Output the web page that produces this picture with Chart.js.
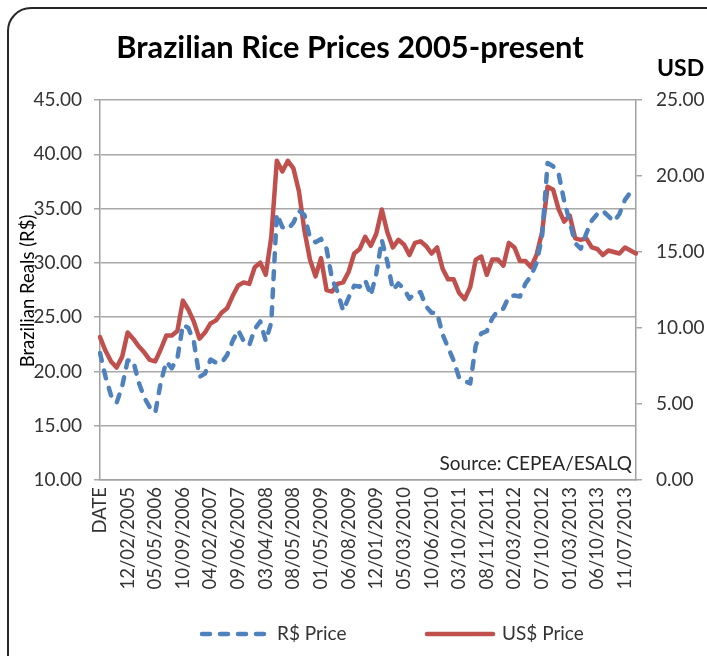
<!DOCTYPE html>
<html>
    <head>
        <title>Brazilian Rice Prices 2005-present</title>
        <style>
            body { margin: 0; background: #fff; overflow: hidden; }
            #frame { position: absolute; left: 7px; top: 7px; width: 760px; height: 720px; border: 2px solid #262626; border-radius: 24px; }
            #myChart { position: absolute; left: 0; top: 0; }
        </style>
    </head>
    <body>
        <div id="frame"></div>
        <canvas id="myChart" width="707" height="656"></canvas>
        <script src="https://cdn.jsdelivr.net/npm/chart.js"></script>
        <script>
            // tick labels shown every 5th point
            const dateTicks = ['DATE', '12/02/2005', '05/05/2006', '10/09/2006', '04/02/2007', '09/06/2007',
                '03/04/2008', '08/05/2008', '01/05/2009', '06/08/2009', '12/01/2009', '05/03/2010',
                '10/06/2010', '03/10/2011', '08/11/2011', '02/03/2012', '07/10/2012', '01/03/2013',
                '06/10/2013', '11/07/2013'];

            const rsPrice = [21.7, 19.5, 17.8, 17.1, 18.6, 21.0, 21.0, 19.0, 17.6, 16.7,
                16.2, 19.0, 20.9, 20.3, 21.2, 24.3, 24.0, 22.7, 19.5, 19.8,
                21.1, 20.8, 20.8, 21.5, 22.8, 23.8, 22.8, 22.4, 23.9, 24.6,
                22.8, 24.5, 34.5, 33.3, 33.1, 33.7, 34.8, 34.4, 32.3, 31.9,
                32.2, 31.3, 28.5, 27.3, 25.6, 26.8, 27.9, 27.8, 28.4, 27.0,
                29.0, 32.1, 30.1, 27.5, 28.1, 27.6, 26.7, 27.2, 27.3, 26.0,
                25.4, 25.4, 23.4, 22.2, 21.0, 19.4, 19.1, 18.9, 22.4, 23.5,
                23.7, 24.9, 25.6, 25.8, 26.9, 27.0, 26.9, 28.1, 28.8, 30.0,
                32.4, 39.2, 38.9, 38.2, 35.7, 33.8, 31.8, 31.3, 32.7, 33.9,
                34.5, 34.8, 34.3, 33.8, 34.5, 35.8, 36.5, 36.2];

            const usPrice = [9.4, 8.5, 7.8, 7.4, 8.1, 9.7, 9.3, 8.8, 8.4, 7.9,
                7.8, 8.6, 9.5, 9.5, 9.8, 11.8, 11.2, 10.4, 9.3, 9.7,
                10.3, 10.5, 11.0, 11.3, 12.1, 12.8, 13.0, 12.9, 14.0, 14.3,
                13.5, 16.0, 21.0, 20.3, 21.0, 20.5, 19.0, 16.4, 14.5, 13.4,
                14.6, 12.5, 12.4, 12.9, 13.0, 13.7, 14.9, 15.2, 16.0, 15.4,
                16.2, 17.8, 16.3, 15.3, 15.8, 15.5, 14.8, 15.6, 15.7, 15.4,
                14.9, 15.3, 13.9, 13.2, 13.2, 12.3, 11.9, 12.7, 14.5, 14.7,
                13.5, 14.5, 14.5, 14.1, 15.6, 15.3, 14.4, 14.4, 14.0, 14.8,
                16.3, 19.3, 19.1, 17.8, 17.0, 17.4, 15.9, 15.8, 15.9, 15.3,
                15.2, 14.8, 15.1, 15.0, 14.9, 15.3, 15.1, 14.9];

            const labels = rsPrice.map((v, i) => (i % 5 === 0 && dateTicks[i / 5]) ? dateTicks[i / 5] : '');

            const chartTitle = 'Brazilian Rice Prices 2005-present';
            const leftTitle = 'Brazilian Reals (R$)';
            const rightTitle = 'USD';
            const sourceNote = 'Source: CEPEA/ESALQ';

            const FONT = 'Lato';

            // title, axis names, source and legend placed like in the excel chart
            const textPlugin = {
                id: 'texts',
                afterDraw(chart) {
                    const c = chart.ctx;
                    c.save();
                    c.fillStyle = '#000';
                    c.textBaseline = 'middle';
                    c.textAlign = 'center';
                    c.font = 'bold 30.8px ' + FONT;
                    c.fillText(chartTitle, 350, 48);
                    c.textAlign = 'left';
                    c.font = 'bold 23px ' + FONT;
                    c.fillText(rightTitle, 657, 69);
                    c.textAlign = 'right';
                    c.font = '19px ' + FONT;
                    c.fillStyle = '#262626';
                    c.fillText(sourceNote, 632, 464);

                    // legend
                    const legendX = [200, 425];
                    chart.data.datasets.forEach((ds, i) => {
                        const x0 = legendX[i];
                        c.beginPath();
                        c.strokeStyle = ds.borderColor;
                        c.lineWidth = ds.borderWidth;
                        c.lineCap = 'round';
                        c.setLineDash(ds.borderDash || []);
                        c.moveTo(x0 + 2, 634);
                        c.lineTo(x0 + 68, 634);
                        c.stroke();
                        c.setLineDash([]);
                        c.textAlign = 'left';
                        c.fillStyle = '#333';
                        c.font = '19px ' + FONT;
                        c.fillText(ds.label, x0 + 77, 634);
                    });

                    c.translate(28, 291);
                    c.rotate(-Math.PI / 2);
                    c.textAlign = 'center';
                    c.fillStyle = '#000';
                    c.font = '18.5px ' + FONT;
                    c.fillText(leftTitle, 0, 0);
                    c.restore();
                }
            };

            const ctx = document.getElementById('myChart').getContext('2d');

            const myChart = new Chart(ctx, {
                type: 'line',
                data: {
                    labels: labels,
                    datasets: [{
                        label: 'R$ Price',
                        data: rsPrice,
                        yAxisID: 'y',
                        borderColor: '#4F81BD',
                        backgroundColor: '#4F81BD',
                        borderWidth: 4.5,
                        borderDash: [8, 10],
                        borderCapStyle: 'round',
                        borderJoinStyle: 'round',
                        tension: 0,
                        pointRadius: 0,
                        fill: false,
                    }, {
                        label: 'US$ Price',
                        data: usPrice,
                        yAxisID: 'y1',
                        borderColor: '#C0504D',
                        backgroundColor: '#C0504D',
                        borderWidth: 4.5,
                        borderCapStyle: 'round',
                        borderJoinStyle: 'round',
                        tension: 0,
                        pointRadius: 0,
                        fill: false,
                    }]
                },
                options: {
                    responsive: false,
                    animation: false,
                    layout: {
                        padding: { top: 100, left: 0, right: 0, bottom: 0 }
                    },
                    plugins: {
                        title: { display: false },
                        tooltip: { enabled: false },
                        legend: { display: false }
                    },
                    scales: {
                        x: {
                            afterFit(scale) { scale.height = 176; },
                            grid: { display: false, drawTicks: false },
                            border: { display: true, color: '#a0a0a0', width: 1.5 },
                            ticks: {
                                autoSkip: false,
                                minRotation: 90,
                                maxRotation: 90,
                                padding: 7,
                                color: '#333',
                                font: { family: FONT, size: 18.5 },
                            }
                        },
                        y: {
                            position: 'left',
                            min: 10,
                            max: 45,
                            afterFit(scale) { scale.width = 100; },
                            grid: { color: '#a8a8a8', lineWidth: 1.5, tickLength: 6 },
                            border: { color: '#a0a0a0', width: 1.5 },
                            ticks: {
                                stepSize: 5,
                                padding: 12,
                                color: '#333',
                                font: { family: FONT, size: 19 },
                                callback: (v) => v.toFixed(2),
                            }
                        },
                        y1: {
                            position: 'right',
                            min: 0,
                            max: 25,
                            afterFit(scale) { scale.width = 71; },
                            grid: { drawOnChartArea: false, color: '#a8a8a8', lineWidth: 1.5, tickLength: 6 },
                            border: { color: '#a0a0a0', width: 1.5 },
                            ticks: {
                                stepSize: 5,
                                padding: 14,
                                color: '#333',
                                font: { family: FONT, size: 19 },
                                callback: (v) => v.toFixed(2),
                            }
                        }
                    }
                },
                plugins: [textPlugin]
            });
        </script>
    </body>
</html>
